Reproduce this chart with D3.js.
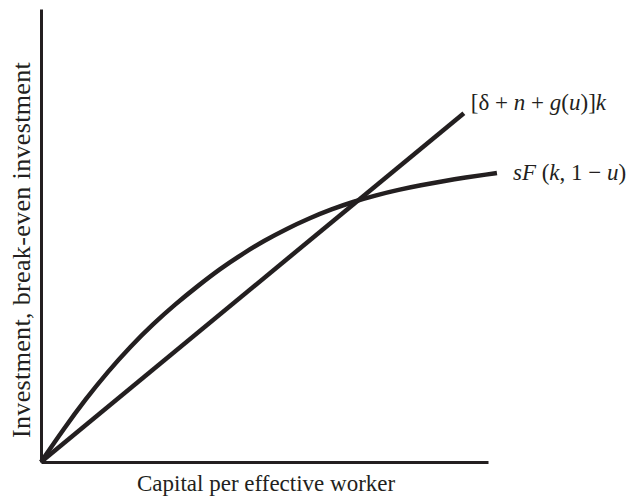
<!DOCTYPE html>
<html>
<head>
<meta charset="utf-8">
<script src="https://cdnjs.cloudflare.com/ajax/libs/d3/7.8.5/d3.min.js"></script>
<style>
  body { margin: 0; background: #fff; }
  text { font-family: "Liberation Serif", "Times New Roman", serif; fill: #231f20; }
</style>
</head>
<body>
<svg id="chart" width="628" height="498"></svg>
<script>
/* Our data: capital per effective worker and the two schedules */
var capital = [0, 0.5, 1, 1.5, 2, 2.5, 3, 3.5, 4, 4.5, 5, 5.5, 6, 6.5, 7, 7.5, 8, 8.5, 9, 9.5, 10, 10.2];
var investment = [0, 0.72, 1.39, 2.00, 2.55, 3.04, 3.48, 3.88, 4.26, 4.59, 4.89, 5.15, 5.38, 5.58, 5.75, 5.89, 6.01, 6.11, 6.20, 6.28, 6.35, 6.38];
var breakEvenCapital = [0, 9.46];
var breakEven = [0, 7.70];

var xLabel = "Capital per effective worker";
var yLabel = "Investment, break-even investment";

var ink = "#231f20";
var svg = d3.select("#chart");

/* Scales - no ticks, just the two axis lines */
var x = d3.scaleLinear().domain([0, 10]).range([41, 488]);
var y = d3.scaleLinear().domain([0, 10]).range([462, 9]);

svg.append("g")
  .attr("transform", "translate(0," + y(0) + ")")
  .call(d3.axisBottom(x).tickValues([]).tickSizeOuter(0));
svg.append("g")
  .attr("transform", "translate(" + x(0) + ",0)")
  .call(d3.axisLeft(y).tickValues([]).tickSizeOuter(0));
svg.selectAll(".domain").attr("stroke", ink).attr("stroke-width", 3);

/* The two curves */
var line = d3.line()
  .x(function(d) { return x(d[0]); })
  .y(function(d) { return y(d[1]); });

var curve = d3.line()
  .x(function(d) { return x(d[0]); })
  .y(function(d) { return y(d[1]); })
  .curve(d3.curveBasis);

svg.append("path")
  .datum(d3.zip(breakEvenCapital, breakEven))
  .attr("d", line)
  .attr("fill", "none")
  .attr("stroke", ink)
  .attr("stroke-width", 4.5);

svg.append("path")
  .datum(d3.zip(capital, investment))
  .attr("d", curve)
  .attr("fill", "none")
  .attr("stroke", ink)
  .attr("stroke-width", 4.5);

/* Labels - pieces in italic where the book has them */
var label = function(px, py, parts) {
  var t = svg.append("text")
    .attr("x", px)
    .attr("y", py)
    .attr("font-size", 23);
  parts.forEach(function(p) {
    t.append("tspan")
      .attr("font-style", p[1] ? "italic" : "normal")
      .text(p[0]);
  });
};

var lineEnd = [x(breakEvenCapital[1]), y(breakEven[1])];
label(lineEnd[0] + 7, lineEnd[1] - 3, [
  ["[\u03b4 + ", false], ["n", true], [" + ", false], ["g", true], ["(", false],
  ["u", true], [")]", false], ["k", true]
]);

var curveEnd = [x(capital[capital.length - 1]), y(investment[investment.length - 1])];
label(curveEnd[0] + 16, curveEnd[1] + 7, [
  ["sF", true], [" (", false], ["k", true], [", 1 \u2212 ", false], ["u", true], [")", false]
]);

/* Axis titles */
svg.append("text")
  .attr("x", 137)
  .attr("y", 491)
  .attr("font-size", 23)
  .text(xLabel);

svg.append("text")
  .attr("transform", "translate(30,438) rotate(-90)")
  .attr("font-size", 26)
  .attr("letter-spacing", 0.35)
  .text(yLabel);
</script>
</body>
</html>
